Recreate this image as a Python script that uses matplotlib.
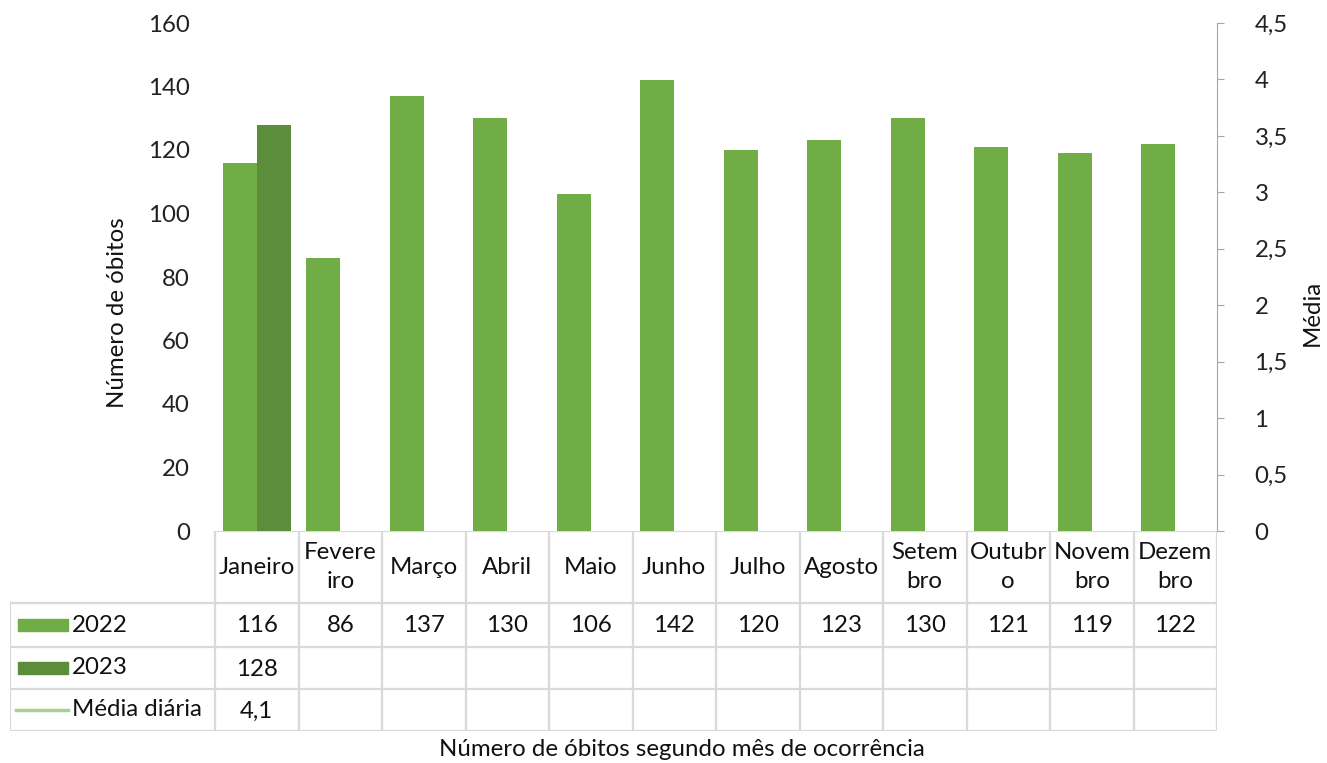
import numpy as np
import matplotlib.pyplot as plt
from matplotlib.ticker import FuncFormatter

plt.rcParams['font.family'] = ['Lato', 'DejaVu Sans']

# data
meses = ["Janeiro", "Fevere\niro", "Março", "Abril", "Maio", "Junho", "Julho",
         "Agosto", "Setem\nbro", "Outubr\no", "Novem\nbro", "Dezem\nbro"]
obitos_2022 = [116, 86, 137, 130, 106, 142, 120, 123, 130, 121, 119, 122]
obitos_2023 = [128]
media_diaria = [4.1]

c2022 = "#70AD47"
c2023 = "#5B8D3A"
cmedia = "#A9D18E"
grid_c = "#D9D9D9"
txt_c = "#111111"
fs = 17.3

W, H = 1327, 763
fig = plt.figure(figsize=(W / 100, H / 100), dpi=100)

# plot area in pixels
x0, x1, y0, y1 = 215, 1217, 23, 531
ax = fig.add_axes([x0 / W, 1 - y1 / H, (x1 - x0) / W, (y1 - y0) / H])

x = np.arange(len(meses))
bw = 0.41
ax.bar(x - bw / 2, obitos_2022, width=bw, color=c2022, label="2022")
ax.bar(np.arange(len(obitos_2023)) + bw / 2, obitos_2023, width=bw, color=c2023, label="2023")
ax.set_xlim(-0.5, len(meses) - 0.5)
ax.set_ylim(0, 160)
ax.set_yticks(np.arange(0, 161, 20))
ax.set_xticks([])
for s in ["top", "left", "right", "bottom"]:
    ax.spines[s].set_visible(False)
ax.tick_params(axis="y", length=0, pad=18, labelsize=fs, colors="#222222")

ax2 = ax.twinx()
ax2.plot(np.arange(len(media_diaria)), media_diaria, color=cmedia, lw=2.5)
ax2.set_ylim(0, 4.5)
ax2.set_yticks(np.arange(0, 4.51, 0.5))
ax2.yaxis.set_major_formatter(FuncFormatter(lambda v, p: f"{v:g}".replace(".", ",")))
for s in ["top", "left", "bottom"]:
    ax2.spines[s].set_visible(False)
ax2.spines["right"].set_color("#A6A6A6")
ax2.tick_params(axis="y", direction="out", length=5, color="#A6A6A6", pad=22,
                labelsize=fs, labelcolor="#222222")

# axis titles
fig.text(118 / W, 1 - 313 / H, "Número de óbitos", rotation=90, ha="center", va="center",
         fontsize=fs, color=txt_c)
fig.text(1312 / W, 1 - 313 / H, "Média", rotation=90, ha="center", va="center",
         fontsize=fs, color=txt_c)

# data table below the plot
tx0, ty1 = 10, 731
tab = fig.add_axes([tx0 / W, 1 - ty1 / H, (x1 - tx0) / W, (ty1 - y1) / H])
cw = (x1 - x0) / len(meses)
left_lim = -0.5 - (x0 - tx0) / cw
tab.set_xlim(left_lim, len(meses) - 0.5)
tab.set_ylim(ty1, y1)
tab.axis("off")

rows = [y1, 603, 647, 689, ty1]
lw = 1.6
tab.plot([-0.5, len(meses) - 0.5], [y1, y1], color=grid_c, lw=lw)
for yy in rows[1:]:
    tab.plot([left_lim, len(meses) - 0.5], [yy, yy], color=grid_c, lw=lw)
tab.plot([left_lim, left_lim], [rows[1], ty1], color=grid_c, lw=lw)
for k in range(len(meses) + 1):
    tab.plot([k - 0.5, k - 0.5], [y1, ty1], color=grid_c, lw=lw)

for i, m in enumerate(meses):
    tab.text(i, (rows[0] + rows[1]) / 2, m, ha="center", va="center",
             fontsize=fs, linespacing=1.45, color=txt_c)

series = [obitos_2022, obitos_2023, [f"{v:g}".replace(".", ",") for v in media_diaria]]
for r, vals in enumerate(series):
    yc = (rows[r + 1] + rows[r + 2]) / 2
    for i, v in enumerate(vals):
        tab.text(i, yc + 1, str(v), ha="center", va="center", fontsize=fs, color=txt_c)

# legend keys in the row headers
kx0 = left_lim + 8 / cw
kx1 = left_lim + 58 / cw
tx = left_lim + 62 / cw
for r, (lab, col) in enumerate([("2022", c2022), ("2023", c2023)]):
    yc = (rows[r + 1] + rows[r + 2]) / 2
    tab.add_patch(plt.Rectangle((kx0, yc - 6), kx1 - kx0, 12, color=col))
    tab.text(tx, yc, lab, ha="left", va="center", fontsize=fs, color=txt_c)
yc = (rows[3] + rows[4]) / 2
tab.plot([kx0 - 2 / cw, kx1], [yc, yc], color=cmedia, lw=2.5)
tab.text(tx, yc, "Média diária", ha="left", va="center", fontsize=fs, color=txt_c)

fig.text(682 / W, 1 - 749 / H, "Número de óbitos segundo mês de ocorrência",
         ha="center", va="center", fontsize=fs, color=txt_c)

plt.savefig("out.png", dpi=100)
